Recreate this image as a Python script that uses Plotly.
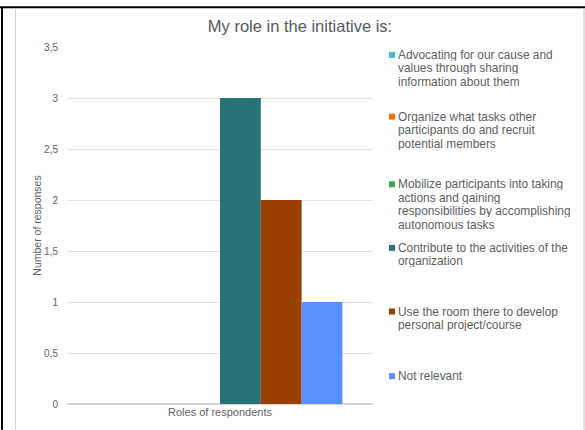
import plotly.graph_objects as go

# Survey data: one category, one bar per role
category = ["Roles of respondents"]
roles = [
    "Advocating for our cause and<br>values through sharing<br>information about them",
    "Organize what tasks other<br>participants do and recruit<br>potential members",
    "Mobilize participants into taking<br>actions and gaining<br>responsibilities by accomplishing<br>autonomous tasks",
    "Contribute to the activities of the<br>organization",
    "Use the room there to develop<br>personal project/course",
    "Not relevant",
]
responses = [0, 0, 0, 3, 2, 1]
colors = ["#46BDC6", "#FF6D01", "#34A853", "#277476", "#993F00", "#5890FF"]

y_ticks = [0, 0.5, 1, 1.5, 2, 2.5, 3, 3.5]

W, H = 585, 430
L, R, T, B = 67, 212, 47, 24
PW, PH = W - L - R, H - T - B


def px_x(px):
    return (px - L) / PW


def px_y(py):
    return (H - B - py) / PH


FONT = "Liberation Sans, Arial, sans-serif"
GREY = "#606060"

fig = go.Figure()
for name, val, col in zip(roles, responses, colors):
    fig.add_trace(go.Bar(
        x=category, y=[val], name=name.replace("<br>", " "),
        marker=dict(color=col, line=dict(width=0)),
        showlegend=False,
    ))

# Legend drawn as swatches with hanging-indent text
legend_top = [55, 117, 185, 249, 313, 378]
line_gap = 13.6
shapes = []
annotations = []
for name, col, ytop in zip(roles, colors, legend_top):
    shapes.append(dict(
        type="rect", xref="paper", yref="paper",
        x0=px_x(389), x1=px_x(395), y0=px_y(ytop + 3), y1=px_y(ytop - 3),
        fillcolor=col, line=dict(width=0),
    ))
    for i, line in enumerate(name.split("<br>")):
        annotations.append(dict(
            xref="paper", yref="paper", x=px_x(397), y=px_y(ytop + i * line_gap),
            xanchor="left", yanchor="middle", text=line, showarrow=False,
            height=12, borderpad=0, valign="middle",
            font=dict(family=FONT, size=11.9, color=GREY),
        ))

# Frame lines around the chart
shapes += [
    dict(type="line", xref="paper", yref="paper", x0=px_x(0), x1=px_x(585),
         y0=px_y(7), y1=px_y(7), line=dict(color="#000000", width=2)),
    dict(type="line", xref="paper", yref="paper", x0=px_x(2), x1=px_x(2),
         y0=px_y(7), y1=px_y(432), line=dict(color="#000000", width=2)),
    dict(type="line", xref="paper", yref="paper", x0=px_x(15.5), x1=px_x(15.5),
         y0=px_y(8), y1=px_y(432), line=dict(color="#d4d4d4", width=1)),
    dict(type="line", xref="paper", yref="paper", x0=px_x(584), x1=px_x(584),
         y0=px_y(8), y1=px_y(432), line=dict(color="#d4d4d4", width=1.5)),
]

fig.update_layout(
    width=W, height=H,
    margin=dict(l=L, r=R, t=T, b=B, pad=0),
    paper_bgcolor="white", plot_bgcolor="white",
    separators=",.",
    barmode="group", bargap=0.2, bargroupgap=0,
    title=dict(text="My role in the initiative is:", x=300 / W, xanchor="center",
               y=1 - 26 / H, yanchor="middle",
               font=dict(family=FONT, size=16.5, color="#595959")),
    font=dict(family=FONT, color=GREY),
    shapes=shapes, annotations=annotations,
    xaxis=dict(showgrid=False, showline=False, ticks="",
               tickfont=dict(family=FONT, size=11, color=GREY)),
    yaxis=dict(range=[0, 3.5], tickvals=y_ticks, showgrid=True,
               gridcolor="#e3e3e3", gridwidth=1, zeroline=True,
               zerolinecolor="#d6d6d6", zerolinewidth=1.5, showline=False,
               ticks="outside", ticklen=6, tickcolor="rgba(0,0,0,0)",
               tickfont=dict(family=FONT, size=10, color=GREY),
               title=dict(text="Number of responses", standoff=0,
                          font=dict(family=FONT, size=10.5, color=GREY))),
)

fig.write_html("out.html")
